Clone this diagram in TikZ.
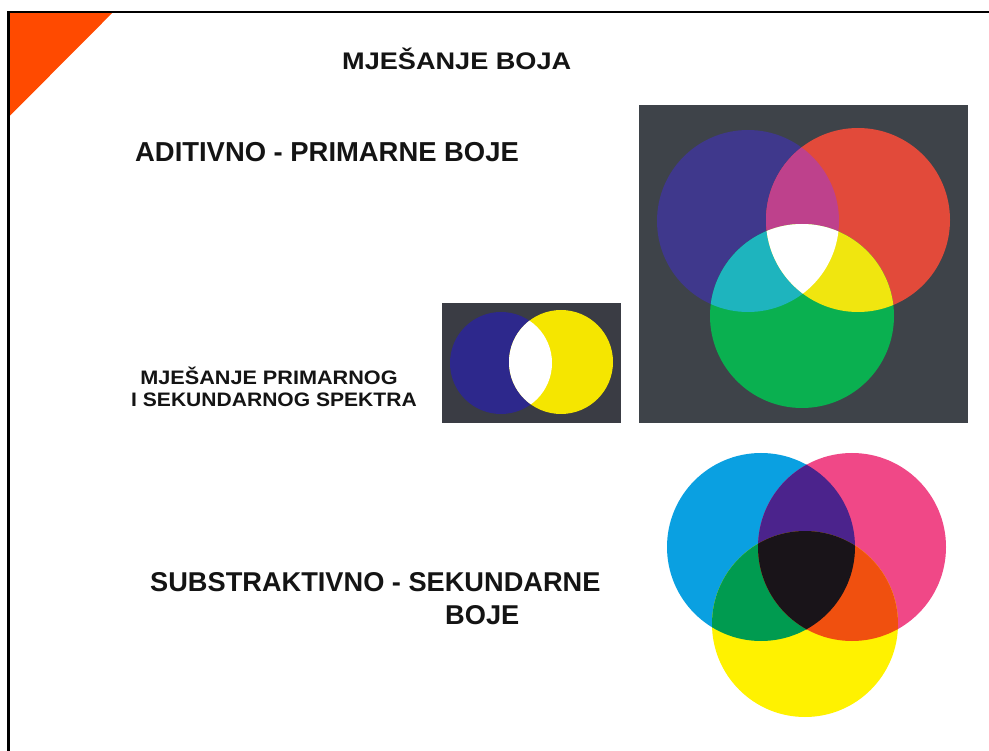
\documentclass[tikz,border=0pt]{standalone}
\usepackage{fontspec}
\setmainfont{Liberation Sans}
\definecolor{txt}{RGB}{20,20,20}
\definecolor{tri}{RGB}{255,74,0}
\definecolor{bgA}{RGB}{62,67,73}
\definecolor{aBlue}{RGB}{63,56,140}
\definecolor{aRed}{RGB}{226,74,58}
\definecolor{aGreen}{RGB}{10,176,80}
\definecolor{aMag}{RGB}{190,65,140}
\definecolor{aCyan}{RGB}{30,180,190}
\definecolor{aYel}{RGB}{240,230,15}
\definecolor{bgB}{RGB}{58,60,68}
\definecolor{bBlue}{RGB}{45,40,140}
\definecolor{bYel}{RGB}{245,230,0}
\definecolor{sCyan}{RGB}{10,160,225}
\definecolor{sMag}{RGB}{240,72,135}
\definecolor{sYel}{RGB}{255,242,0}
\definecolor{sViol}{RGB}{75,35,140}
\definecolor{sGreen}{RGB}{0,155,80}
\definecolor{sOrange}{RGB}{240,80,15}
\definecolor{sBlack}{RGB}{25,20,25}
\tikzset{
  lbl/.style={inner sep=0pt, text=txt, font=\bfseries},
}
\begin{document}
\begin{tikzpicture}[x=1pt,y=-1pt]
\useasboundingbox (0,0) rectangle (989,751);
\fill[white] (0,0) rectangle (989,751);
% corner triangle and frame
\fill[tri] (8.7,12.2) -- (113,12.2) -- (8.7,117) -- cycle;
\draw[line width=2.6pt] (8.7,751) -- (8.7,12.2) -- (989,12.2);
% texts
\node[lbl, anchor=base, font=\fontsize{24}{28}\selectfont\bfseries] (title) at (456.7,69.3) {\scalebox{1.13}[1]{MJEŠANJE BOJA}};
\node[lbl, anchor=base west, font=\fontsize{27.4}{32}\selectfont\bfseries] (adit) at (135,161.7) {ADITIVNO - PRIMARNE BOJE};
\node[lbl, anchor=base, font=\fontsize{19.5}{23}\selectfont\bfseries] (mix1) at (269,385) {\scalebox{1.11}[1]{MJEŠANJE PRIMARNOG}};
\node[lbl, anchor=base, font=\fontsize{19.5}{23}\selectfont\bfseries] (mix2) at (274,406.7) {\scalebox{1.08}[1]{I SEKUNDARNOG SPEKTRA}};
\node[lbl, anchor=base west, font=\fontsize{27.2}{31}\selectfont\bfseries] (subs) at (150,591.7) {SUBSTRAKTIVNO - SEKUNDARNE};
\node[lbl, anchor=base west, font=\fontsize{27.2}{31}\selectfont\bfseries] (boje) at (445,624) {BOJE};
% additive box
\fill[bgA] (639.3,105) rectangle (968.3,423.3);
\fill[aBlue] (748,221) circle[radius=91pt];
\fill[aRed] (858,220) circle[radius=92pt];
\fill[aGreen] (802,316) circle[radius=92pt];
\begin{scope}
  \clip (748,221) circle[radius=91pt];
  \fill[aMag] (858,220) circle[radius=92pt];
  \fill[aCyan] (802,316) circle[radius=92pt];
\end{scope}
\begin{scope}
  \clip (858,220) circle[radius=92pt];
  \fill[aYel] (802,316) circle[radius=92pt];
\end{scope}
\begin{scope}
  \clip (748,221) circle[radius=91pt];
  \clip (858,220) circle[radius=92pt];
  \fill[white] (802,316) circle[radius=92pt];
\end{scope}
% small box
\fill[bgB] (442,303) rectangle (621,423);
\fill[bBlue] (501,363) circle[radius=51pt];
\fill[bYel] (561,362) circle[radius=52pt];
\begin{scope}
  \clip (501,363) circle[radius=51pt];
  \fill[white] (561,362) circle[radius=52pt];
\end{scope}
% subtractive
\fill[sCyan] (761,547) circle[radius=94pt];
\fill[sMag] (852,547) circle[radius=94pt];
\fill[sYel] (805,624) circle[radius=93pt];
\begin{scope}
  \clip (761,547) circle[radius=94pt];
  \fill[sViol] (852,547) circle[radius=94pt];
  \fill[sGreen] (805,624) circle[radius=93pt];
\end{scope}
\begin{scope}
  \clip (852,547) circle[radius=94pt];
  \fill[sOrange] (805,624) circle[radius=93pt];
\end{scope}
\begin{scope}
  \clip (761,547) circle[radius=94pt];
  \clip (852,547) circle[radius=94pt];
  \fill[sBlack] (805,624) circle[radius=93pt];
\end{scope}
\end{tikzpicture}
\end{document}
